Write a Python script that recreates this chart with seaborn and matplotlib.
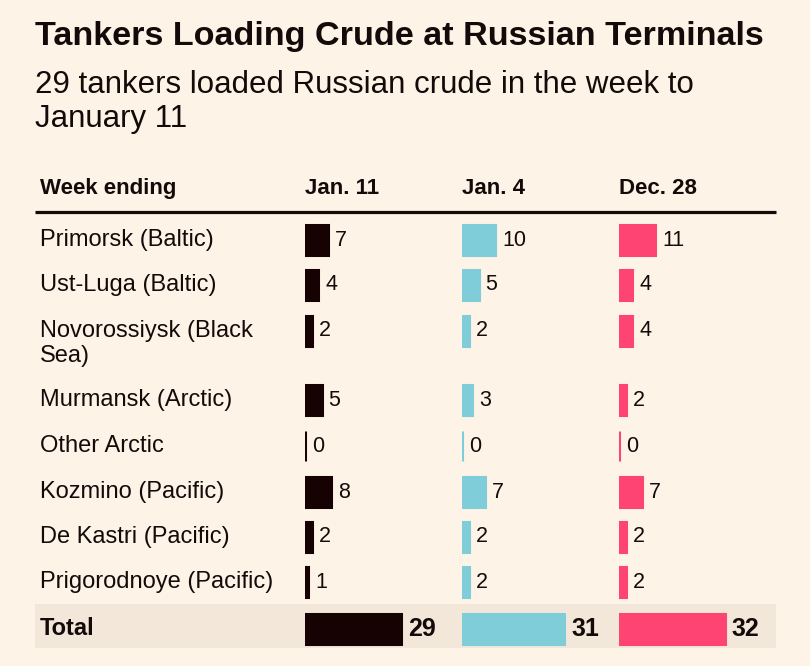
import numpy as np
import matplotlib.pyplot as plt
import seaborn as sns
from matplotlib.patches import Rectangle

sns.set_style('white')
plt.rcParams['font.family'] = ['Liberation Sans', 'DejaVu Sans']

# data
terminals = ["Primorsk (Baltic)", "Ust-Luga (Baltic)", "Novorossiysk (Black\nSea)",
             "Murmansk (Arctic)", "Other Arctic", "Kozmino (Pacific)",
             "De Kastri (Pacific)", "Prigorodnoye (Pacific)"]
weeks = ["Jan. 11", "Jan. 4", "Dec. 28"]
jan11 = [7, 4, 2, 5, 0, 8, 2, 1]
jan4 = [10, 5, 2, 3, 0, 7, 2, 2]
dec28 = [11, 4, 4, 2, 0, 7, 2, 2]
totals = [29, 31, 32]
title = "Tankers Loading Crude at Russian Terminals"
subtitle = "29 tankers loaded Russian crude in the week to\nJanuary 11"

# layout (figure pixels from the top)
W, H = 810, 666
row_y = [240, 285, 331, 400, 446, 492, 537, 582]
total_y = 629
col_x = [305, 462, 619]
px_per_unit = 3.3
col_w = 150
colors = ['#160203', '#7ecdd9', '#fe4472']
bg_color = '#fdf3e7'
ink = '#140a0a'

fig = plt.figure(figsize=(W / 100, H / 100), dpi=100, facecolor=bg_color)
bg = fig.add_axes([0, 0, 1, 1])
bg.set_xlim(0, W)
bg.set_ylim(H, 0)
bg.axis('off')
bg.set_facecolor(bg_color)

bg.text(35, 45, title, fontsize=24.6, fontweight='bold', color=ink, va='baseline')
for k, line in enumerate(subtitle.split('\n')):
    bg.text(35, 93 + 34 * k, line, fontsize=22.5, color=ink, va='baseline')

bg.text(40, 194, "Week ending", fontsize=16, fontweight='bold', color=ink, va='baseline')
for x, w in zip(col_x, weeks):
    bg.text(x, 194, w, fontsize=16, fontweight='bold', color=ink, va='baseline')
bg.plot([35, 776], [212, 212], color=ink, lw=2.3, solid_capstyle='butt')

bg.add_patch(Rectangle((35, 604), 741, 44, color='#f2e7d8', lw=0))

for y, name in zip(row_y, terminals):
    for k, line in enumerate(name.split('\n')):
        bg.text(40, y + 6 + 25 * k, line, fontsize=17, color=ink, va='baseline')
bg.text(40, total_y + 6, "Total", fontsize=17, fontweight='bold', color=ink, va='baseline')

top, bottom = 217, 652
for i, (vals, tot) in enumerate(zip([jan11, jan4, dec28], totals)):
    ax = fig.add_axes([col_x[i] / W, 1 - bottom / H, col_w / W, (bottom - top) / H])
    ax.patch.set_alpha(0)
    c = colors[i]
    sns.barplot(x=vals + [tot], y=row_y + [total_y], orient='y', native_scale=True,
                color=c, saturation=1, width=0.68, edgecolor=c, linewidth=2.2, ax=ax)
    ax.set_xlim(0, col_w / px_per_unit)
    ax.set_ylim(bottom, top)
    ax.axis('off')
    for v, y in zip(vals, row_y):
        ax.annotate(str(v), (v, y), xytext=(7, 0), textcoords='offset pixels',
                    fontsize=15.5, color=ink, va='center', ha='left')
    ax.annotate(str(tot), (tot, total_y), xytext=(7, 0), textcoords='offset pixels',
                fontsize=18, fontweight='bold', color=ink, va='center', ha='left')

fig.savefig('out.png', dpi=100, facecolor=bg_color)
